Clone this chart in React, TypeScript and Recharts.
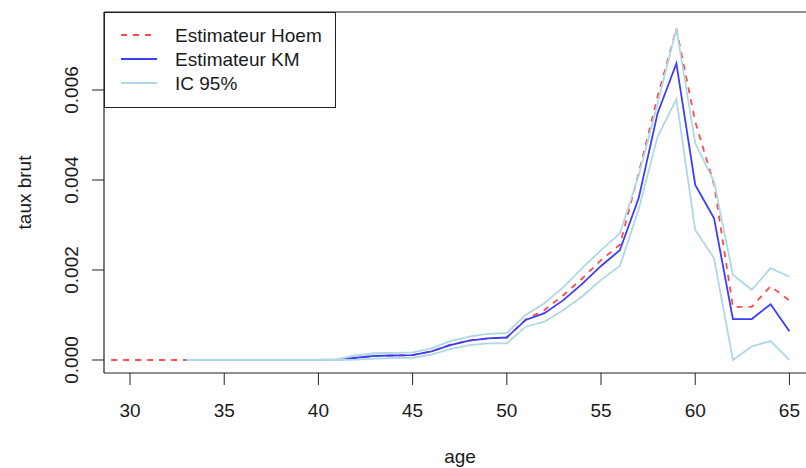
import React from "react";
import { LineChart, Line, XAxis, YAxis, ReferenceLine } from "recharts";

const ages = [29,30,31,32,33,34,35,36,37,38,39,40,41,42,43,44,45,46,47,48,49,50,51,52,53,54,55,56,57,58,59,60,61,62,63,64,65];
const hoem = [0,0,0,0,0,0,0,0,0,0,0,0,0,0.00005,0.00009,0.0001,0.00011,0.00019,0.00034,0.00043,0.00048,0.0005,0.0009,0.00111,0.00144,0.00181,0.00222,0.00256,0.00415,0.00585,0.00736,0.0053,0.0039,0.00118,0.00118,0.00164,0.00132];
const km = [null,null,null,null,0,0,0,0,0,0,0,0,0.00001,0.00005,0.00009,0.0001,0.00011,0.00019,0.00033,0.00043,0.00048,0.0005,0.00089,0.00104,0.00133,0.00169,0.00209,0.00244,0.0036,0.00548,0.00659,0.00389,0.00315,0.00091,0.00091,0.00124,0.00064];
const icHigh = [null,null,null,null,0.00001,0.00001,0.00001,0.00001,0.00001,0.00001,0.00001,0.00001,0.00002,0.0001,0.00015,0.00016,0.00017,0.00026,0.00042,0.00052,0.00058,0.0006,0.001,0.00126,0.00162,0.00204,0.00244,0.00281,0.0041,0.0057,0.00736,0.00482,0.00396,0.00189,0.00156,0.00204,0.00185];
const icLow = [null,null,null,null,0,0,0,0,0,0,0,0,0,0.00001,0.00003,0.00004,0.00005,0.00012,0.00024,0.00033,0.00037,0.00037,0.00074,0.00085,0.00111,0.00141,0.00178,0.00209,0.00335,0.00496,0.0058,0.00289,0.00226,0,0.0003,0.00042,0];

const xTicks = [30,35,40,45,50,55,60,65];
const yTicks = [0,0.002,0.004,0.006];
const xDomain = [28.62, 66.41];
const yDomain = [-0.000289, 0.007733];

const data = ages.map((a, i) => ({ age: a, hoem: hoem[i], km: km[i], icHigh: icHigh[i], icLow: icLow[i] }));

const FONT = "'Liberation Sans', Arial, Helvetica, sans-serif";
const RED = "#ff4a4a";
const BLUE = "#3c3cff";
const LIGHT = "#add8e6";
const AXIS = "#222";

const XTick = (props: any) => {
  const { x, y, payload } = props;
  return (
    <text x={x} y={y + 30} textAnchor="middle" fontSize={19} fontFamily={FONT} fill="#1a1a1a">
      {payload.value}
    </text>
  );
};

const YTick = (props: any) => {
  const { y, payload } = props;
  const bx = 78;
  return (
    <text x={bx} y={y} transform={`rotate(-90, ${bx}, ${y})`} textAnchor="middle" fontSize={19} fontFamily={FONT} fill="#1a1a1a">
      {Number(payload.value).toFixed(3)}
    </text>
  );
};

const legendItems = [
  { label: "Estimateur Hoem", color: RED, dash: "6 6" },
  { label: "Estimateur KM", color: BLUE, dash: undefined },
  { label: "IC 95%", color: LIGHT, dash: undefined },
];

const LegendBox = () => (
  <svg width={232} height={96} style={{ display: "block" }}>
    <rect x={0.5} y={0.5} width={231} height={95} fill="#fff" stroke={AXIS} strokeWidth={1} />
    {legendItems.map((it, i) => {
      const ly = 23 + i * 24;
      return (
        <g key={it.label}>
          <line x1={17} x2={53} y1={ly} y2={ly} stroke={it.color} strokeWidth={1.8} strokeDasharray={it.dash} />
          <text x={71} y={ly + 7} fontSize={19} fontFamily={FONT} fill="#1a1a1a">{it.label}</text>
        </g>
      );
    })}
  </svg>
);

export default function App() {
  return (
    <div style={{ position: "fixed", left: 0, top: 0, width: 806, height: 468, overflow: "hidden", background: "#fff" }}>
      <LineChart width={830} height={468} data={data} margin={{ top: 12, right: 14, bottom: 35, left: 14 }}>
        <XAxis
          dataKey="age"
          type="number"
          domain={xDomain}
          allowDataOverflow
          ticks={xTicks}
          interval={0}
          tickSize={12}
          tickLine={{ stroke: AXIS, strokeWidth: 1 }}
          axisLine={{ stroke: AXIS, strokeWidth: 1.2 }}
          tick={<XTick />}
          height={60}
          label={{
            content: (p: any) => {
              const vb = p.viewBox;
              return (
                <text x={460} y={vb.y + 90} textAnchor="middle" fontSize={19} fontFamily={FONT} fill="#1a1a1a">age</text>
              );
            },
          }}
        />
        <YAxis
          type="number"
          domain={yDomain}
          allowDataOverflow
          ticks={yTicks}
          interval={0}
          tickSize={12}
          tickLine={{ stroke: AXIS, strokeWidth: 1 }}
          axisLine={{ stroke: AXIS, strokeWidth: 1.2 }}
          tick={<YTick />}
          width={90}
          label={{
            content: (p: any) => {
              const vb = p.viewBox;
              const cx = 31;
              const cy = vb.y + vb.height / 2;
              return (
                <text x={cx} y={cy} transform={`rotate(-90, ${cx}, ${cy})`} textAnchor="middle" fontSize={19} fontFamily={FONT} fill="#1a1a1a">taux brut</text>
              );
            },
          }}
        />
        <ReferenceLine y={yDomain[1]} stroke={AXIS} strokeWidth={1.2} ifOverflow="visible" />
        <Line type="linear" dataKey="hoem" stroke={RED} strokeWidth={1.8} strokeDasharray="6 6" dot={false} isAnimationActive={false} />
        <Line type="linear" dataKey="km" stroke={BLUE} strokeWidth={1.8} dot={false} isAnimationActive={false} />
        <Line type="linear" dataKey="icHigh" stroke={LIGHT} strokeWidth={1.8} dot={false} isAnimationActive={false} />
        <Line type="linear" dataKey="icLow" stroke={LIGHT} strokeWidth={1.8} dot={false} isAnimationActive={false} />
      </LineChart>
      <div style={{ position: "absolute", left: 104, top: 12 }}>
        <LegendBox />
      </div>
    </div>
  );
}
